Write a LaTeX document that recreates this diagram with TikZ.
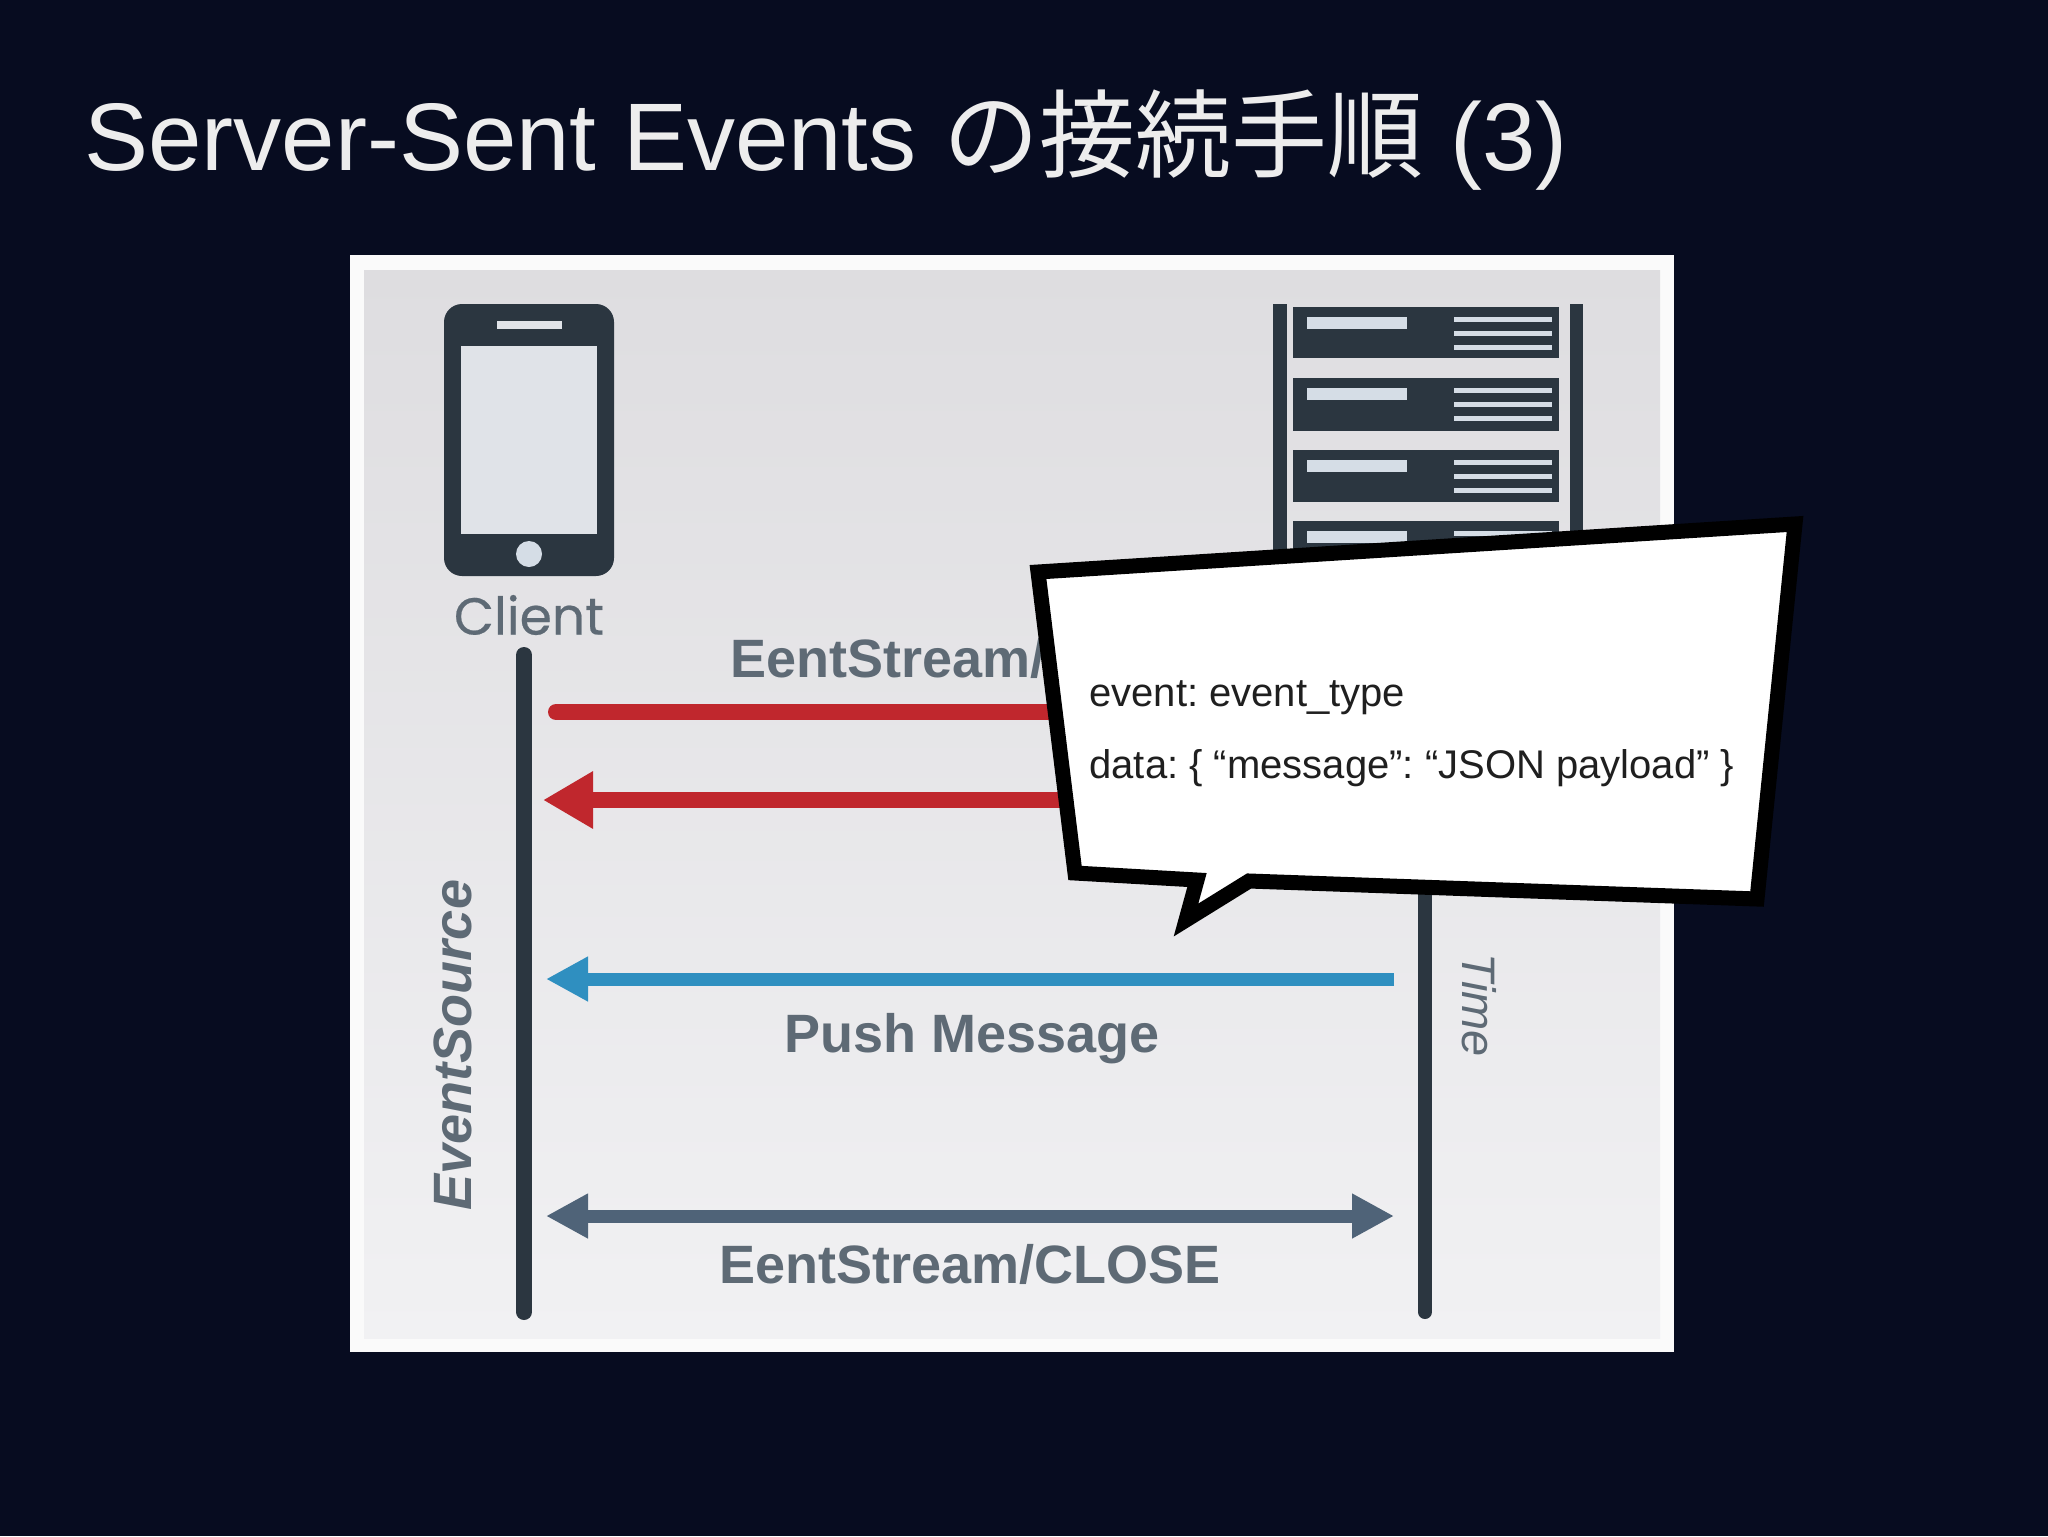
\documentclass[tikz,border=0pt]{standalone}
\usepackage{fontspec}
\usepackage{tikz}
\usetikzlibrary{arrows.meta}
\setmainfont{Liberation Sans}
\newfontfamily\cjk{Noto Sans CJK JP}
\newfontfamily\clientfont[FakeBold=0.4]{Poppins}
\definecolor{slidebg}{HTML}{070C20}
\definecolor{paneltop}{HTML}{DEDDE0}
\definecolor{panelmid}{HTML}{EBEBED}
\definecolor{panelbot}{HTML}{F1F1F3}
\definecolor{icondark}{HTML}{2B3640}
\definecolor{iconlight}{HTML}{E0E3E8}
\definecolor{rackbar}{HTML}{D5DDE6}
\definecolor{labelgray}{HTML}{5E6A75}
\definecolor{streamred}{HTML}{C0272D}
\definecolor{pushblue}{HTML}{2F8FC0}
\definecolor{closeslate}{HTML}{4F6378}
\begin{document}
\begin{tikzpicture}[x=0.5pt,y=-0.5pt]
                    \tikzstyle{msglabel}=[text=labelgray,font=\fontsize{27}{30}\selectfont\bfseries,inner sep=0pt]
                    \tikzstyle{bubbletext}=[text=black!88,font=\fontsize{20}{24}\selectfont\frenchspacing,anchor=base west,inner sep=0pt]
                    \tikzstyle{lifeline}=[icondark,line width=8pt,line cap=round]
                    \tikzstyle{redmsg}=[streamred,line width=8pt,line cap=round]
                    \useasboundingbox (0,0) rectangle (2048,1536);
                    \fill[slidebg] (0,0) rectangle (2048,1536);
                    \node[anchor=base west,inner sep=0pt,text=white!93!black,font=\fontsize{48}{56}\selectfont] (title) at (84,170) {Server-Sent Events {\cjk の接続手順} (3)};
                    % panel
                    \fill[white!98!black] (350,255) rectangle (1674,1352);
                    \shade[top color=paneltop,middle color=panelmid,bottom color=panelbot] (364,270) rectangle (1660,1338);
                    % phone
                    \fill[icondark,rounded corners=9pt] (444,304) rectangle (614,576);
                    \fill[iconlight] (461,346) rectangle (597,534);
                    \fill[iconlight] (497,321) rectangle (562,329);
                    \fill[rackbar] (529,554) circle (6.5pt);
                    \node[text=labelgray,inner sep=0pt,font=\clientfont\fontsize{26}{30}\selectfont] (client) at (529,615) {Client};
                    % rack
                    \fill[icondark] (1273,304) rectangle (1287,600);
                    \fill[icondark] (1570,304) rectangle (1583,600);
                    \foreach \ytop/\ybot in {307/358,378/431,450/502,521/600} {
                        \fill[icondark] (1293,\ytop) rectangle (1559,\ybot);
                        \fill[rackbar] (1307,\ytop+10) rectangle (1407,\ytop+22);
                        \foreach \dy in {12,26,40}
                            \fill[rackbar] (1454,\ytop+\dy-2.5) rectangle (1552,\ytop+\dy+2.5);
                    }
                    % lifelines
                    \coordinate (clienttop) at (524,655);
                    \coordinate (clientbot) at (524,1312);
                    \coordinate (servertop) at (1425,860);
                    \coordinate (serverbot) at (1425,1312);
                    \draw[lifeline] (clienttop) -- (clientbot);
                    \draw[lifeline,line width=7pt] (servertop) -- (serverbot);
                    % messages
                    \coordinate (stream1a) at (556,712);
                    \coordinate (stream1b) at (1120,712);
                    \coordinate (stream2a) at (1120,800);
                    \coordinate (stream2b) at (543,800);
                    \coordinate (pusha) at (1394,979);
                    \coordinate (pushb) at (546,979);
                    \coordinate (closea) at (546,1216);
                    \coordinate (closeb) at (1394,1216);
                    \draw[redmsg] (stream1a) -- (stream1b);
                    \draw[streamred,line width=8pt,-{Triangle[length=25pt,width=27pt]}] (stream2a) -- (stream2b);
                    \draw[pushblue,line width=6.5pt,-{Triangle[length=21pt,width=21pt]}] (pusha) -- (pushb);
                    \draw[closeslate,line width=6.5pt,{Triangle[length=21pt,width=21pt]}-{Triangle[length=21pt,width=21pt]}] (closea) -- (closeb);
                    \node[msglabel,anchor=base west] (streamlbl) at (730,677) {EentStream/};
                    \node[msglabel,anchor=base] (pushlbl) at (972,1052) {Push Message};
                    \node[msglabel,anchor=base] (closelbl) at (970,1283) {EentStream/CLOSE};
                    \node[msglabel,rotate=90,font=\fontsize{27}{30}\selectfont\bfseries\itshape] (evsource) at (453,1045) {EventSource};
                    \node[text=labelgray,rotate=-90,inner sep=0pt,font=\fontsize{23.5}{26}\selectfont\itshape] (timelbl) at (1479,1005) {Time};
                    % speech bubble
                    \draw[black,fill=white,line width=7.5pt,miter limit=10] (1038,572) -- (1795,524) -- (1757,899) -- (1249,881) -- (1186,920) -- (1197,880) -- (1075,873) -- cycle;
                    \node[bubbletext] (evtype) at (1089,706) {event: event\_type};
                    \node[bubbletext] (evdata) at (1089,778) {data: \{ “message”: “JSON payload” \}};
                \end{tikzpicture}
\end{document}
